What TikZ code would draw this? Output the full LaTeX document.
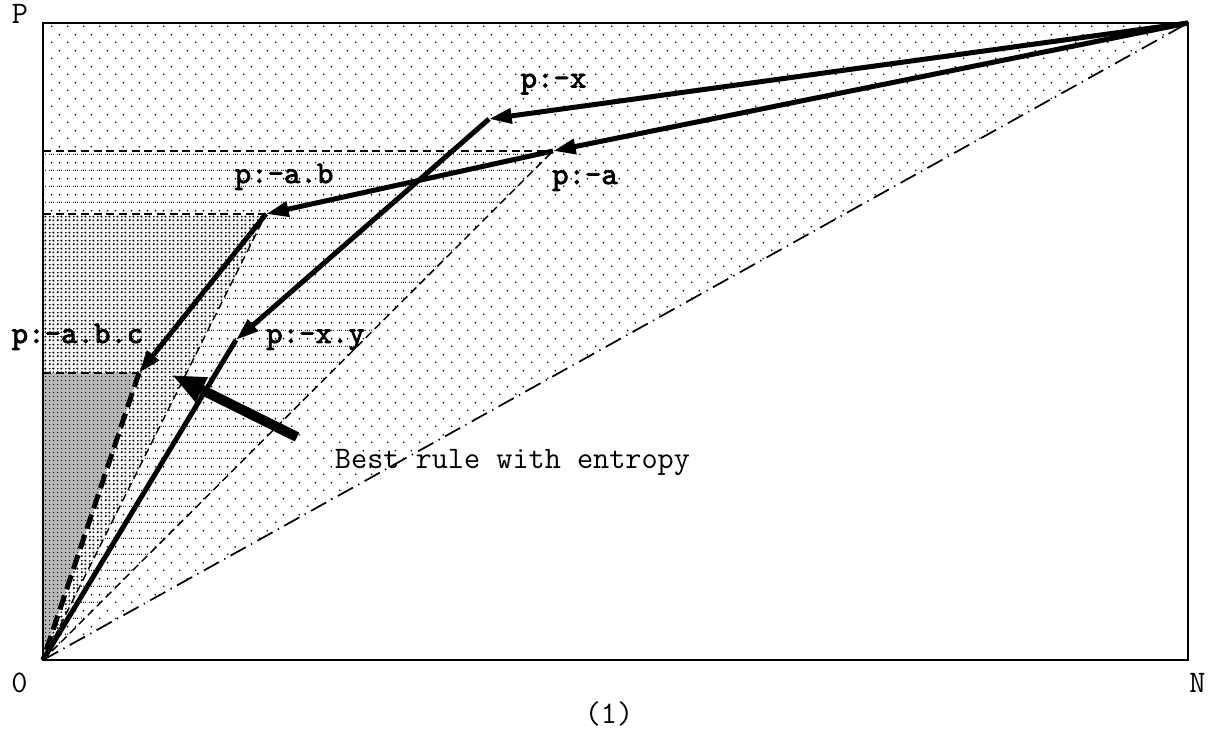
\documentclass[tikz,border=0pt]{standalone}
\usepackage{fontspec}
\newfontfamily\labelfont{lmmono10-regular.otf}[FakeBold=2.5]
\usetikzlibrary{patterns.meta,arrows.meta}

% sparse staggered dots
\tikzdeclarepattern{
  name=lightdots,
  type=uncolored,
  bounding box={(0pt,0pt) and (12pt,12pt)},
  tile size={(12pt,12pt)},
  code={
    \fill (3pt,3pt) circle (0.7pt);
    \fill (9pt,9pt) circle (0.7pt);
  }
}
% rows of dot triplets alternating with single dots
\tikzdeclarepattern{
  name=meddots,
  type=uncolored,
  bounding box={(0pt,0pt) and (6pt,12pt)},
  tile size={(6pt,12pt)},
  code={
    \fill (1.3pt,3pt) circle (0.5pt);
    \fill (3pt,3pt) circle (0.5pt);
    \fill (4.7pt,3pt) circle (0.5pt);
    \fill (3pt,9pt) circle (0.75pt);
  }
}
% close grid of dots
\tikzdeclarepattern{
  name=densedots,
  type=uncolored,
  bounding box={(0pt,0pt) and (6pt,6pt)},
  tile size={(6pt,6pt)},
  code={
    \fill (1.5pt,1.5pt) circle (1pt);
    \fill (4.5pt,4.5pt) circle (1pt);
    \fill (1.5pt,4.5pt) circle (0.75pt);
    \fill (4.5pt,1.5pt) circle (0.75pt);
  }
}
% dark dots laid over grey
\tikzdeclarepattern{
  name=darkdots,
  type=uncolored,
  bounding box={(0pt,0pt) and (3pt,3pt)},
  tile size={(3pt,3pt)},
  code={
    \fill (1.5pt,1.5pt) circle (0.6pt);
  }
}

\begin{document}
\begin{tikzpicture}[x=0.75pt,y=-0.75pt,
  frame/.style={line width=1.5pt},
  guide/.style={line width=1.1pt, dash pattern=on 6pt off 3.5pt},
  level/.style={line width=1.4pt, dash pattern=on 6pt off 3.5pt},
  diag/.style={line width=1.3pt, dash pattern=on 13pt off 4.5pt on 1pt off 4.5pt},
  refine/.style={line width=3.75pt, -{Triangle[length=17pt,width=11pt]}},
  tail/.style={line width=3.75pt},
  taildash/.style={line width=3.75pt, dash pattern=on 11pt off 5pt},
  pointer/.style={line width=7.5pt, -{Triangle[length=25pt,width=19pt]}},
  rulelabel/.style={font=\labelfont\fontsize{23.5pt}{27pt}\selectfont, anchor=base, inner sep=0pt},
  plain/.style={font=\ttfamily\fontsize{23.5pt}{27pt}\selectfont, anchor=base, inner sep=0pt},
]
\useasboundingbox (0,0) rectangle (1211,734);

% corners of the plot and rule points
\coordinate (O) at (43,660);
\coordinate (TL) at (43,23);
\coordinate (TR) at (1188,23);
\coordinate (BR) at (1188,660);
\coordinate (X) at (489,119);
\coordinate (A) at (553,151);
\coordinate (AB) at (266,214);
\coordinate (ABC) at (139,373);
\coordinate (XY) at (236,340);
\coordinate (HA) at (43,151);
\coordinate (HAB) at (43,214);
\coordinate (HABC) at (43,373);
\coordinate (BT) at (297,437);
\coordinate (BH) at (172,375);

% shaded regions, outermost first
\fill[pattern=lightdots] (O) -- (TL) -- (TR) -- cycle;
\fill[white] (O) -- (HA) -- (A) -- cycle;
\fill[pattern=meddots] (O) -- (HA) -- (A) -- cycle;
\fill[white] (O) -- (HAB) -- (AB) -- cycle;
\fill[pattern=densedots] (O) -- (HAB) -- (AB) -- cycle;
\fill[black!28] (O) -- (HABC) -- (ABC) -- cycle;
\fill[pattern=darkdots] (O) -- (HABC) -- (ABC) -- cycle;

% level lines and guides
\draw[level] (HA) -- (A);
\draw[level] (HAB) -- (AB);
\draw[level] (HABC) -- (ABC);
\draw[guide] (O) -- (A);
\draw[guide] (O) -- (AB);
\draw[diag] (O) -- (TR);

% frame
\draw[frame] (TL) rectangle (BR);

% refinement paths
\draw[refine] (TR) -- (X);
\draw[refine] (TR) -- (A);
\draw[refine] (X) -- (XY);
\draw[tail] (XY) -- (O);
\draw[refine] (A) -- (AB);
\draw[refine] (AB) -- (ABC);
\draw[taildash] (ABC) -- (O);
\draw[pointer] (BT) -- (BH);

% labels
\node[rulelabel] (lx) at (553.5,87.5) {p:-x};
\node[rulelabel] (la) at (585,184) {p:-a};
\node[rulelabel] (lab) at (284,183) {p:-a.b};
\node[rulelabel] (labc) at (77.5,343) {p:-a.b.c};
\node[rulelabel] (lxy) at (315.5,343) {p:-x.y};
\node[plain] (best) at (512.5,469) {Best rule with entropy};
\node[plain] (lp) at (20,24) {P};
\node[plain] (lzero) at (19.5,692) {0};
\node[plain] (ln) at (1197.5,692) {N};
\node[plain] (cap) at (609,723) {(1)};
\end{tikzpicture}
\end{document}
